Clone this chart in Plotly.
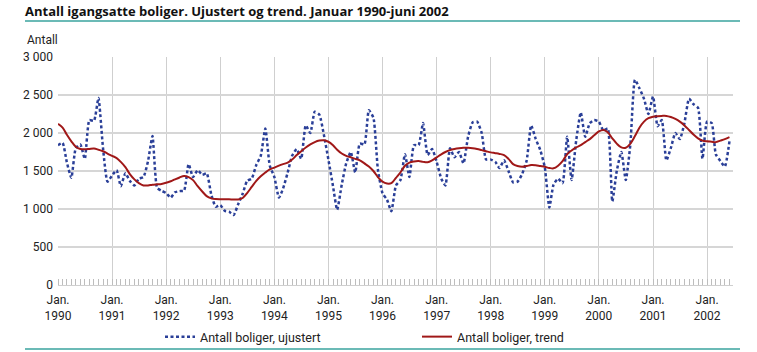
import plotly.graph_objects as go

# Monthly data, Jan 1990 - Jun 2002
years = list(range(1990, 2003))
u1990 = [1840, 1870, 1620, 1410, 1800, 1850, 1660, 2170, 2160, 2460, 1800, 1360]
u1991 = [1440, 1510, 1300, 1470, 1370, 1310, 1400, 1420, 1630, 1960, 1280, 1240]
u1992 = [1210, 1150, 1220, 1235, 1240, 1590, 1420, 1510, 1450, 1470, 1190, 1030]
u1993 = [1050, 975, 965, 920, 1060, 1200, 1370, 1400, 1580, 1700, 2060, 1570]
u1994 = [1420, 1150, 1270, 1480, 1700, 1790, 1660, 2100, 2000, 2280, 2240, 1980]
u1995 = [1650, 1300, 990, 1320, 1600, 1750, 1480, 1860, 1850, 2300, 2200, 1520]
u1996 = [1210, 1120, 970, 1310, 1380, 1720, 1420, 1840, 1840, 2130, 1710, 1790]
u1997 = [1620, 1400, 1310, 1800, 1680, 1750, 1600, 1950, 2140, 2150, 2000, 1650]
u1998 = [1650, 1620, 1540, 1640, 1500, 1350, 1360, 1460, 1640, 2100, 1920, 1780]
u1999 = [1550, 1020, 1320, 1400, 1340, 1950, 1380, 1900, 2270, 1950, 2130, 2170]
u2000 = [2150, 2030, 2060, 1100, 1500, 1750, 1380, 1850, 2700, 2590, 2450, 2250]
u2001 = [2480, 2090, 2170, 1640, 1800, 2000, 1920, 2130, 2450, 2380, 2330, 1660]
u2002 = [2150, 2130, 1720, 1630, 1560, 1890]

t1990 = [2120, 2070, 1980, 1890, 1820, 1790, 1785, 1790, 1795, 1780, 1760, 1730]
t1991 = [1700, 1670, 1620, 1550, 1460, 1390, 1340, 1310, 1310, 1320, 1325, 1330]
t1992 = [1345, 1365, 1390, 1415, 1435, 1420, 1380, 1300, 1230, 1170, 1140, 1130]
t1993 = [1128, 1128, 1128, 1125, 1125, 1145, 1210, 1290, 1370, 1430, 1480, 1520]
t1994 = [1545, 1570, 1590, 1610, 1650, 1710, 1760, 1810, 1850, 1880, 1900, 1905]
t1995 = [1885, 1840, 1780, 1730, 1700, 1680, 1660, 1640, 1600, 1560, 1500, 1420]
t1996 = [1360, 1335, 1340, 1410, 1480, 1570, 1610, 1625, 1630, 1620, 1615, 1640]
t1997 = [1680, 1720, 1750, 1775, 1790, 1800, 1805, 1805, 1800, 1790, 1775, 1760]
t1998 = [1745, 1735, 1725, 1710, 1660, 1590, 1565, 1555, 1565, 1578, 1575, 1565]
t1999 = [1555, 1540, 1535, 1570, 1630, 1720, 1770, 1810, 1840, 1880, 1920, 1970]
t2000 = [2020, 2040, 2010, 1930, 1860, 1810, 1805, 1860, 1960, 2070, 2150, 2195]
t2001 = [2215, 2222, 2225, 2225, 2210, 2185, 2150, 2100, 2040, 1980, 1930, 1900]
t2002 = [1890, 1885, 1880, 1900, 1920, 1945]

unadj = (u1990 + u1991 + u1992 + u1993 + u1994 + u1995 + u1996 + u1997
         + u1998 + u1999 + u2000 + u2001 + u2002)
trend = (t1990 + t1991 + t1992 + t1993 + t1994 + t1995 + t1996 + t1997
         + t1998 + t1999 + t2000 + t2001 + t2002)
months = [f"{1990 + i // 12}-{i % 12 + 1:02d}-01" for i in range(len(unadj))]

y_ticks = [0, 500, 1000, 1500, 2000, 2500, 3000]
y_ticktext = ["0", "500", "1 000", "1 500", "2 000", "2 500", "3 000"]
x_tickvals = [f"{y}-01-01" for y in years]
x_ticktext = [f"Jan.<br>{y}" for y in years]

name_u = "Antall boliger, ujustert"
name_t = "Antall boliger, trend"
title = "Antall igangsatte boliger. Ujustert og trend. Januar 1990-juni 2002"

FONT = "Roboto, sans-serif"
TEAL = "#3aa39e"

fig = go.Figure()
fig.add_trace(go.Scatter(x=months, y=unadj, mode="lines", name=name_u,
                         line=dict(color="#2a3f98", width=2.5, dash="3px,2.5px", shape="spline", smoothing=0.5)))
fig.add_trace(go.Scatter(x=months, y=trend, mode="lines", name=name_t,
                         line=dict(color="#a01818", width=2, shape="spline")))

L, R, T, B = 58, 24, 57, 67
W, H = 757, 352
pw = W - L - R
ph = H - T - B

def px_x(p):
    return (p - L) / pw

def px_y(p):
    return (H - B - p) / ph

fig.update_layout(
    width=W, height=H,
    margin=dict(l=L, r=R, t=T, b=B, autoexpand=False),
    paper_bgcolor="white", plot_bgcolor="white",
    font=dict(family=FONT, size=12, color="#222"),
    title=dict(text="<b>" + title + "</b>", x=25 / W, xref="container", xanchor="left",
               y=1 - 11 / H, yref="container", yanchor="middle",
               font=dict(family="Open Sans, sans-serif", size=13, color="#111")),
    showlegend=True,
    legend=dict(orientation="h", x=px_x(160), xanchor="left", y=px_y(337), yanchor="middle",
                entrywidth=212, entrywidthmode="pixels", font=dict(size=12.5, family=FONT),
                bgcolor="rgba(0,0,0,0)"),
    xaxis=dict(type="date", range=["1990-01-01", "2002-06-25"], automargin=False,
               tickvals=x_tickvals, ticktext=x_ticktext, showgrid=True,
               gridcolor="#cfcfcf", gridwidth=1, showline=True, linecolor="#cfcfcf",
               ticks="", ticklabelstandoff=4, tickfont=dict(size=12, family=FONT, color="#222"),
               minor=dict(dtick="M1", ticks="inside", ticklen=6, tickcolor="#bdbdbd", showgrid=False),
               zeroline=False, fixedrange=True),
    yaxis=dict(range=[0, 3000], tickvals=y_ticks, ticktext=y_ticktext, showgrid=True, automargin=False,
               gridcolor="#d6d6d6", gridwidth=2, zeroline=False, showline=False,
               ticks="", ticklabelstandoff=4, tickfont=dict(size=12, family=FONT, color="#222"),
               fixedrange=True),
    shapes=[
        dict(type="line", xref="paper", yref="paper", x0=px_x(25), x1=px_x(740), y0=px_y(21), y1=px_y(21),
             line=dict(color=TEAL, width=1.5)),
        dict(type="line", xref="paper", yref="paper", x0=px_x(25), x1=px_x(740), y0=px_y(349), y1=px_y(349),
             line=dict(color=TEAL, width=1.5)),
    ],
    annotations=[
        dict(text="Antall", xref="paper", yref="paper", x=px_x(25), y=px_y(40), xanchor="left",
             yanchor="middle", showarrow=False, font=dict(size=12, family=FONT, color="#222")),
    ],
)

fig.write_html("out.html")
